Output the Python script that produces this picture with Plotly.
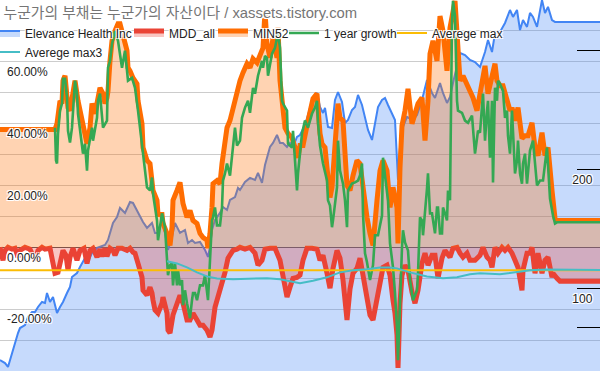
import plotly.graph_objects as go

# ---------------- data ----------------
price_day = [0,5,8,12,15,18,20,25,28,32,35,38,42,45,47,50,53,57,60,63,67,70,72,77,80,85,88,92,97,100,
             105,108,110,113,117,120,125,130,133,138,143,147,152,155,158,162,165,168,172,175,180,185,188,192,195,200,
             205,208,210,212,215,220,223,227,230,235,238,240,245,250,255,258,262,265,270,273,277,280,283,287,290,293,
             297,300,305,308,313,317,320,323,325,328,332,335,338,342,345,348,352,355,358,362,365,368,372,375,378,382,
             385,388,392,395,398,400,403,407,413,417,422,427,432,435,440,443,447,450,453,457,460,465,470,475,480,485,
             488,492,495,500,505,510,513,517,520,523,527,530,533,537,540,542,545,548,552,555,600]
price = [40.3,37.8,34.5,46.2,54.6,63.0,67.2,69.7,76.5,80.7,80.7,84.9,89.1,88.2,96.6,89.1,93.3,79.8,84.9,89.1,96.6,101.7,110.1,113.4,118.5,126.0,122.7,130.3,134.5,135.3,
         137.0,141.2,147.1,155.5,160.5,168.1,163.9,173.1,172.3,163.9,156.3,151.3,155.5,147.1,147.1,158.0,147.1,132.8,143.7,155.5,147.1,149.6,138.7,141.2,138.7,139.5,
         132.8,126.9,135.3,149.6,158.0,163.9,168.9,166.4,174.8,177.3,184.9,183.2,189.9,193.3,191.6,197.5,189.1,204.2,219.3,222.7,229.4,222.7,222.7,219.3,222.7,219.3,
         227.7,229.4,237.8,246.2,261.3,264.7,252.9,247.9,252.1,236.1,235.3,258.8,265.5,257.1,239.5,242.0,250.4,252.9,263.0,254.6,244.5,233.6,225.2,237.8,252.9,258.8,
         260.5,254.6,247.9,242.0,191.6,219.3,236.1,244.5,242.0,246.2,258.8,275.6,264.7,260.5,273.1,264.7,256.3,261.3,273.1,286.5,298.3,296.6,292.4,290.7,286.5,299.1,
         309.2,299.1,315.1,316.0,323.5,334.4,328.6,334.4,317.6,326.0,320.2,331.9,328.6,320.2,334.4,342.8,331.9,337.0,326.0,324.4,324.4]

mdd_day = [0,2,3,5,8,12,15,18,20,25,30,35,38,42,45,50,53,55,58,60,63,66,68,70,73,77,80,84,87,90,93,97,100,102,105,107,110,113,115,118,
           122,127,130,133,135,138,140,142,143,147,150,152,153,155,158,162,163,167,168,170,173,177,180,183,187,190,193,197,200,203,
           207,210,212,215,218,222,225,228,233,237,240,245,250,255,258,262,265,270,275,280,283,287,290,293,297,300,303,307,312,317,
           320,323,327,330,333,337,340,343,347,350,353,357,360,363,367,370,373,377,380,383,387,390,393,395,397,398,400,402,405,408,
           412,415,418,422,425,428,432,435,438,442,445,450,453,457,460,463,467,470,475,480,483,487,490,492,495,498,502,505,508,512,
           515,518,522,523,527,530,532,535,538,542,545,548,552,553,557,560,600]
mdd_all = [0,-3.2,-4.2,-1.0,0,-0.6,-0.3,-3.2,-1.0,0,-0.6,-4.2,-1.0,0,-0.6,-0.3,-4.8,-8.4,-8.1,-4.8,-1.0,-2.6,-7.4,-3.2,-0.3,-4.2,-1.0,-0.3,-5.2,-1.0,-0.3,-3.2,-0.6,-2.9,-0.3,-2.9,-0.3,-1.0,-2.6,-0.3,
           -0.3,-1.0,-0.3,-1.6,-1.9,-5.2,-7.4,-9.7,-13.9,-15.5,-12.9,-14.8,-17.1,-20.3,-21.3,-18.1,-16.1,-21.3,-26.8,-27.7,-21.9,-17.7,-15.5,-18.1,-23.5,-23.5,-21.3,-23.5,-25.2,-25.2,
           -26.8,-29.0,-26.8,-19.4,-16.1,-11.6,-8.1,-3.5,-1.0,-0.6,0,-0.6,0,-1.9,-5.8,-4.2,-0.6,-0.3,-0.3,-4.2,-9.7,-16.1,-12.9,-10.0,-9.7,-9.0,-4.2,-0.3,-0.3,-0.6,
           -4.2,-2.6,-8.4,-13.2,-6.8,-1.0,-3.5,-10.6,-23.5,-13.5,-8.4,-6.8,-3.5,-9.7,-18.1,-21.9,-23.5,-16.8,-10.6,-6.5,-5.8,-9.0,-17.1,-21.3,-28.4,-39.0,-18.1,-9.0,-5.8,-7.4,
           -14.5,-18.1,-13.9,-5.2,-1.9,-5.8,-2.6,-2.6,-10.0,-3.5,-1.0,-3.2,-0.3,0,-1.9,-3.2,-1.9,-4.2,-4.2,-2.6,0,-3.2,-4.2,-6.5,0,-1.9,0,-1.0,0,-1.9,
           -4.2,-6.5,-13.9,-7.4,-1.9,-1.9,0,-8.4,-1.9,-8.4,-4.2,-3.2,-9.7,-8.4,-10.0,-11.0,-11.0]

min52_day = [0,55,57,58,60,62,63,65,67,68,70,72,75,78,80,82,85,87,90,92,95,97,100,103,105,107,108,110,112,115,118,120,123,127,128,130,133,137,138,142,
             143,147,150,152,153,157,158,162,163,167,170,172,173,177,180,183,187,190,193,197,200,203,207,208,210,212,213,217,220,222,225,227,230,233,237,240,243,247,250,253,
             257,260,263,265,267,270,273,277,278,280,282,285,288,292,295,298,300,303,307,310,313,317,318,320,322,325,328,330,332,335,338,340,343,347,350,353,357,360,363,367,
             370,373,377,380,383,387,390,393,397,398,400,402,405,408,412,415,418,422,425,428,430,433,437,440,443,447,450,455,457,460,463,467,470,473,477,480,483,485,488,492,
             495,497,500,503,507,510,512,515,518,522,525,528,532,535,538,542,545,548,552,555,557,600]
min52 = [38.1,38.1,40.0,44.2,47.4,46.5,53.9,55.5,49.7,45.2,44.2,47.4,53.9,47.4,44.2,41.9,35.5,33.5,38.7,46.5,43.2,47.4,51.6,49.7,46.5,48.4,50.6,60.3,66.8,70.0,72.3,72.3,69.0,63.6,58.1,57.1,54.8,52.9,47.4,40.0,
         32.3,28.1,27.1,22.6,18.4,15.2,10.6,10.6,7.7,4.5,0.6,6.5,15.2,18.4,21.0,14.2,9.7,11.9,8.7,7.7,4.5,3.2,2.3,-0.3,4.5,12.9,20.6,21.6,20.6,27.1,35.5,38.7,41.0,45.2,50.6,53.9,56.5,59.4,58.1,61.0,
         59.7,61.9,64.5,76.5,65.8,61.3,67.7,61.3,71.0,53.9,47.4,38.7,36.8,35.5,32.3,29.0,32.9,32.9,39.4,44.2,48.1,49.7,45.2,36.8,33.5,32.3,22.6,16.1,19.4,32.9,46.5,41.9,41.0,20.0,18.4,23.2,28.1,27.1,18.4,9.7,
         4.5,0.6,15.2,24.8,28.1,24.8,12.9,19.4,12.9,1.3,25.8,39.4,44.2,51.3,40.0,43.2,46.5,48.4,34.5,47.4,62.6,66.8,60.3,74.8,70.0,57.1,71.0,79.7,69.0,53.9,55.5,52.9,50.6,48.4,44.2,50.0,55.5,58.7,49.7,54.8,
         59.4,53.9,52.3,52.3,48.1,44.2,45.2,41.0,45.2,35.2,36.1,36.1,40.3,32.3,29.7,37.1,29.7,32.3,18.4,9.4,8.7,8.7]

growth_day = [55,56,57,58,60,62,63,65,67,68,70,72,75,77,78,82,83,85,87,88,92,93,97,98,100,103,107,108,110,112,115,118,120,122,125,128,132,135,138,142,
              145,147,150,152,153,155,157,158,160,162,165,167,168,170,172,173,175,177,178,180,182,183,185,187,190,192,193,195,197,200,203,205,207,208,210,212,213,215,217,220,
              222,223,225,227,230,232,233,235,237,240,242,245,248,250,253,255,258,262,263,265,267,268,272,275,278,280,282,283,287,288,292,293,297,298,302,305,308,312,315,317,
              318,320,323,327,328,330,332,333,337,338,340,343,345,347,348,352,355,358,360,362,363,365,367,370,373,375,377,378,382,383,385,388,390,392,393,395,397,398,400,402,
              403,405,408,410,413,417,418,420,422,423,427,428,430,432,435,437,438,440,442,443,445,447,448,450,452,453,455,457,458,462,465,468,472,475,478,480,483,485,487,488,
              490,492,493,495,497,498,500,503,505,507,508,510,512,515,517,518,520,522,523,525,527,530,533,537,540,543,547,550,553,555,557,600]
growth = [38.7,28.1,27.1,36.8,44.2,46.5,54.5,54.5,48.4,37.7,33.9,38.7,53.9,49.7,43.2,32.3,30.3,33.5,24.8,31.3,38.7,34.5,41.9,47.4,49.7,38.7,41.0,58.1,60.3,65.8,70.0,66.8,61.9,58.1,63.6,53.9,54.8,51.6,44.2,33.5,
          23.9,19.4,18.4,22.6,17.4,12.9,8.7,2.3,7.1,11.0,6.5,-1.9,-9.0,-5.8,-5.2,-12.3,-5.2,-12.3,-7.4,-12.3,-10.6,-18.7,-13.9,-18.1,-22.9,-17.1,-14.8,-14.8,-17.1,-12.3,-12.3,-9.0,-13.9,-17.1,-4.2,8.7,9.7,12.9,7.1,7.1,
          12.9,21.6,23.9,27.1,23.2,29.0,31.3,38.7,32.9,34.5,41.9,45.2,47.4,43.5,51.6,49.7,55.5,60.3,58.1,61.9,61.3,55.5,62.6,64.5,69.4,64.5,47.4,46.5,44.2,33.5,32.3,37.7,18.4,23.9,36.8,41.0,38.7,43.2,45.2,47.4,
          40.3,32.9,27.1,21.6,15.2,13.5,6.5,8.7,19.4,34.5,24.8,20.6,15.2,6.5,18.4,20.6,21.0,21.6,23.2,27.1,11.0,-1.9,-4.8,-10.6,-5.8,3.9,3.9,3.9,10.3,29.0,23.2,15.2,1.3,-4.2,-6.5,-14.8,-25.8,-36.5,-15.5,0.0,
          5.5,1.6,-1.0,-10.6,-17.1,-13.9,-8.4,9.7,8.7,3.9,19.0,23.9,11.0,11.0,4.5,12.9,12.9,4.5,4.5,12.9,11.0,8.7,18.4,15.2,73.2,79.7,74.8,47.4,44.2,43.5,41.0,40.3,42.6,30.3,37.7,37.1,49.7,34.5,44.2,47.4,
          29.0,47.4,21.0,51.6,47.4,53.9,52.9,50.6,41.9,44.2,36.1,30.3,44.2,23.9,28.1,34.5,23.9,20.6,27.1,30.3,20.6,31.3,34.5,20.0,21.6,21.6,32.3,15.8,10.3,7.7,8.1,8.1]

avg_max_day = [0, 600]
avg_max = [-7.4, -7.4]

avg_max3_day = [167,177,187,197,207,217,233,253,267,280,290,300,313,327,340,353,367,380,390,397,410,427,443,457,470,480,500,513,530,547,600]
avg_max3 = [-4.5,-5.2,-6.5,-8.1,-9.4,-10.1,-10.3,-10.0,-10.0,-10.3,-11.0,-11.6,-10.8,-9.7,-8.1,-7.4,-7.1,-6.5,-6.5,-6.8,-8.1,-9.4,-10.0,-9.7,-8.7,-8.4,-8.7,-8.1,-7.4,-7.2,-7.3]

pct_ticks = [-40, -30, -20, -10, 0, 10, 20, 30, 40, 50, 60, 70, 80]
pct_labels = ["", "", "-20.00%", "", "0.00%", "", "20.00%", "", "40.00%", "", "60.00%", "", ""]
price_ticks = [68, 100, 200, 300]
price_labels = ["", "100", "200", ""]

for a, b in [(price_day, price), (mdd_day, mdd_all), (min52_day, min52), (growth_day, growth), (avg_max3_day, avg_max3)]:
    if len(a) != len(b):
        raise SystemExit(f"length mismatch {len(a)} {len(b)}")

# ---------------- figure ----------------
HALO = "-1px -1px 0 #fff, 1px -1px 0 #fff, -1px 1px 0 #fff, 1px 1px 0 #fff, 0 0 2px #fff"
FONT = "Liberation Sans, Arial, Noto Sans CJK KR, sans-serif"
H = 371.0

fig = go.Figure()
fig.add_trace(go.Scatter(x=price_day, y=price, name="Elevance Health Inc", yaxis="y",
                         mode="lines", line=dict(color="#4285F4", width=2),
                         fill="tozeroy", fillcolor="rgba(66,133,244,0.3)", legendwidth=114))
fig.add_trace(go.Scatter(x=mdd_day, y=mdd_all, name="MDD_all", yaxis="y2",
                         mode="lines", line=dict(color="#EA4335", width=5),
                         fill="tozeroy", fillcolor="rgba(234,67,53,0.3)", legendwidth=54))
fig.add_trace(go.Scatter(x=min52_day, y=min52, name="MIN52", yaxis="y2",
                         mode="lines", line=dict(color="#FF6D01", width=5),
                         fill="tozeroy", fillcolor="rgba(255,109,1,0.3)", legendwidth=41))
fig.add_trace(go.Scatter(x=growth_day, y=growth, name="1 year growth", yaxis="y2",
                         mode="lines", line=dict(color="#34A853", width=2.6), legendwidth=78))
fig.add_trace(go.Scatter(x=avg_max_day, y=avg_max, name="Averege max", yaxis="y2",
                         mode="lines", line=dict(color="#FBBC04", width=2), legendwidth=75))
fig.add_trace(go.Scatter(x=avg_max3_day, y=avg_max3, name="Averege max3", yaxis="y2",
                         mode="lines", line=dict(color="#46BDC6", width=2), legend="legend2"))

legend_common = dict(orientation="h", xanchor="left", yanchor="top", x=0, indentation=-15,
                     bgcolor="rgba(0,0,0,0)", borderwidth=0,
                     font=dict(family=FONT, size=12, color="#222222", shadow=HALO),
                     itemwidth=30, traceorder="normal")

fig.update_layout(
    width=600, height=371,
    margin=dict(l=0, r=0, t=0, b=0, pad=0, autoexpand=False),
    paper_bgcolor="white", plot_bgcolor="white",
    font=dict(family=FONT, size=12, color="#222222"),
    title=dict(text="누군가의 부채는 누군가의 자산이다 / xassets.tistory.com",
               x=0.006, xanchor="left", xref="container",
               y=1 - 13 / H, yanchor="middle", yref="container",
               font=dict(family=FONT, size=14.8, color="#757575", shadow=HALO)),
    showlegend=True,
    legend=dict(legend_common, y=1 - 18.5 / H),
    legend2=dict(legend_common, y=1 - 37.5 / H),
    xaxis=dict(range=[0, 600], visible=False, showgrid=False, zeroline=False),
    yaxis=dict(side="right", range=[31.1, 342.8], showgrid=False, zeroline=False,
               tickvals=price_ticks, ticktext=price_labels,
               ticks="inside", ticklen=23, tickcolor="#000000", tickwidth=1,
               ticklabelposition="inside", ticklabelshift=10, ticklabelstandoff=-16,
               tickfont=dict(size=12, color="#222222", shadow=HALO)),
    yaxis2=dict(side="left", overlaying="y", range=[-40, 80],
                tickvals=pct_ticks, ticktext=pct_labels, ticks="",
                showgrid=True, gridcolor="#cccccc", gridwidth=1,
                zeroline=True, zerolinecolor="#555555", zerolinewidth=1,
                ticklabelposition="inside", ticklabelshift=10, ticklabelstandoff=4,
                tickfont=dict(size=12, color="#222222", shadow=HALO)),
)

fig.write_html("out.html", config={"displayModeBar": False},
               post_script="document.body.style.margin='0';")
